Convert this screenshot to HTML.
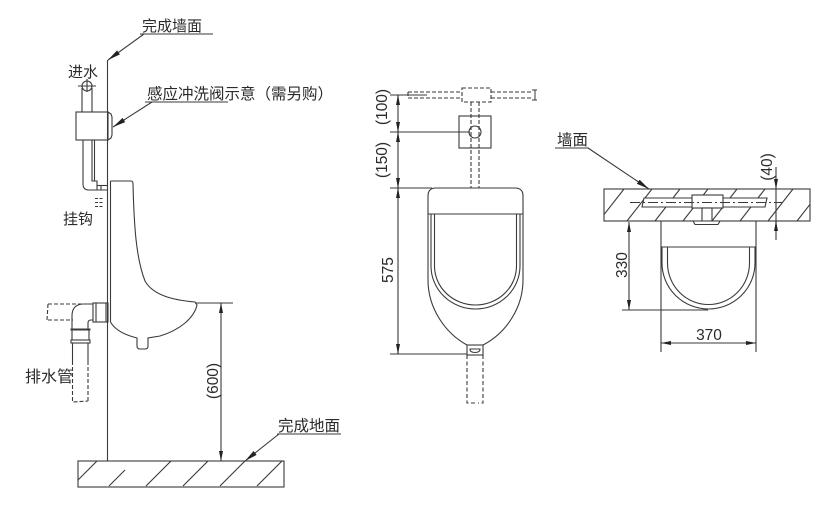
<!DOCTYPE html>
<html><head><meta charset="utf-8"><style>
html,body{margin:0;padding:0;background:#fff;}
svg{display:block}
text{font-family:"Liberation Sans","Noto Sans CJK SC",sans-serif;fill:#2b2b2b}
</style></head><body>
<svg width="839" height="529" viewBox="0 0 839 529" xmlns="http://www.w3.org/2000/svg">
<defs>
<marker id="a" markerUnits="userSpaceOnUse" markerWidth="10" markerHeight="4" refX="10" refY="2" orient="auto-start-reverse"><path d="M0,0 L10,2 L0,4 Z" fill="#222" stroke="none"/></marker>
<marker id="b" markerUnits="userSpaceOnUse" markerWidth="13" markerHeight="5" refX="13" refY="2.5" orient="auto"><path d="M0,0 L13,2.5 L0,5 Z" fill="#222" stroke="none"/></marker>
<clipPath id="cf"><rect x="78" y="461" width="206" height="26"/></clipPath>
<clipPath id="cw"><rect x="604" y="189" width="206" height="32"/></clipPath>
</defs>

<g fill="none" stroke="#3a3a3a" stroke-width="1.1">
<!-- LEFT ELEVATION -->
<line x1="107.5" y1="60" x2="107.5" y2="461"/>
<line x1="140" y1="34" x2="213" y2="34"/>
<line x1="144" y1="34" x2="108" y2="60" marker-end="url(#b)"/>

<!-- valve leader -->
<line x1="145" y1="102" x2="228" y2="102"/>
<line x1="152" y1="102" x2="113" y2="127" marker-end="url(#b)"/>

<!-- inlet -->
<circle cx="87" cy="86" r="5"/>
<line x1="78" y1="86" x2="96" y2="86"/>
<line x1="87" y1="79" x2="87" y2="92"/>
<line x1="82" y1="88" x2="82" y2="112"/>
<line x1="92" y1="88" x2="92" y2="112"/>
<rect x="76" y="112" width="32" height="28"/>
<path d="M108,112 L111,114 L112,117 V135 L111,138 L108,140"/>
<path d="M83,140 V184 Q83,190 89,190 H108"/>
<path d="M92,140 V181 H97 V190"/>
<line x1="94.5" y1="140" x2="94.5" y2="181"/>
<line x1="97" y1="185.5" x2="108" y2="185.5"/>
<line x1="101" y1="185.5" x2="101" y2="190"/>

<!-- urinal side -->
<path d="M110.5,181 H131 Q133,181 133,184 C134,225 136,258 145,281 C153,295 172,300 195,302 L197,305 C194,318 180,330 160,336 L148,338 V346 Q148,349 145,349 H140 Q137,349 137,346 V338 C125,335 115,330 110.5,322"/>
<line x1="110.5" y1="181" x2="110.5" y2="322"/>
<line x1="195" y1="303" x2="233" y2="303"/>

<!-- hook -->
<line x1="95" y1="198.5" x2="104" y2="198.5" stroke-dasharray="3,1.5"/>
<line x1="95" y1="202.5" x2="104" y2="202.5" stroke-dasharray="3,1.5"/>
<line x1="95" y1="206.5" x2="104" y2="206.5" stroke-dasharray="3,1.5"/>

<!-- drain assembly -->
<path d="M48,304 H93 M48,320 H73 M48,304 L47,320" stroke-dasharray="4,2"/>
<rect x="93" y="303" width="15" height="19"/>
<line x1="96" y1="303" x2="96" y2="322"/>
<line x1="106" y1="303" x2="106" y2="322"/>
<path d="M93,304 H84 Q72,304 72,316 V329"/>
<path d="M93,320 H91 Q88,320 88,323 V329"/>
<line x1="70.5" y1="329.5" x2="90.5" y2="329.5" stroke-width="2"/>
<path d="M72,330 V340 M89,330 V340"/>
<rect x="71" y="340" width="19" height="3"/>
<path d="M72.5,343 V361 M88,343 V361"/>
<path d="M72.5,361 V402 L88,401 M88,361 V402" stroke-dasharray="4,2"/>

<!-- floor -->
<rect x="78" y="461" width="206" height="26"/>
<g clip-path="url(#cf)">
<line x1="71" y1="487" x2="97" y2="461"/>
<line x1="109" y1="486" x2="125" y2="470"/>
<line x1="146" y1="486" x2="171" y2="461"/>
<line x1="183" y1="486" x2="208" y2="461"/>
<line x1="220" y1="486" x2="245" y2="461"/>
<line x1="257" y1="486" x2="282" y2="461"/>
</g>
<line x1="277" y1="434" x2="341" y2="434"/>
<line x1="279" y1="434" x2="245" y2="461" marker-end="url(#b)"/>

<!-- dim 600 -->
<line x1="221" y1="303" x2="221" y2="461" marker-start="url(#a)" marker-end="url(#a)"/>

<!-- MIDDLE FRONT -->
<path d="M408,92 H462 M408,98 H462 M408,92 V98 M491,92 H533 M491,98 H533" stroke-dasharray="4,2"/>
<rect x="462" y="88" width="29" height="14" stroke-dasharray="4,2"/>
<path d="M535,90 V100 M532,90 H537 M532,100 H537" stroke-width="1"/>
<path d="M471,102 V188 M479,102 V188" stroke-dasharray="4,2"/>
<rect x="459" y="116" width="32" height="32"/>
<circle cx="475" cy="132" r="6"/>
<line x1="390" y1="95" x2="427" y2="95"/>
<line x1="390" y1="132" x2="470" y2="132"/>
<line x1="390" y1="188" x2="432" y2="188"/>
<line x1="390" y1="354" x2="467" y2="354"/>
<line x1="398" y1="95" x2="398" y2="354"/>
<line x1="398" y1="105" x2="398" y2="95" marker-end="url(#a)"/>
<line x1="398" y1="122" x2="398" y2="132" marker-end="url(#a)"/>
<line x1="398" y1="142" x2="398" y2="132" marker-end="url(#a)"/>
<line x1="398" y1="178" x2="398" y2="188" marker-end="url(#a)"/>
<line x1="398" y1="198" x2="398" y2="188" marker-end="url(#a)"/>
<line x1="398" y1="344" x2="398" y2="354" marker-end="url(#a)"/>

<path d="M467,345 C445,333 428,308 428,280 V196 Q428,188 436,188 H515 Q523,188 523,196 V280 C523,308 506,333 483,345"/>
<line x1="428" y1="214" x2="523" y2="214"/>
<path d="M431,214 V266 A44.5,43 0 0 0 520,266 V214"/>
<path d="M434.5,214 V266 A41,39 0 0 0 516.5,266 V214"/>
<rect x="467" y="345" width="16" height="10"/>
<path d="M470,349 H480 Q480,352.5 475,352.5 Q470,352.5 470,349 Z"/>
<path d="M467,355 V403 H475 M483,355 V403 H478" stroke-dasharray="4,2.5"/>

<!-- RIGHT PLAN -->
<line x1="555" y1="148" x2="589" y2="148"/>
<line x1="588" y1="148" x2="649" y2="189" marker-end="url(#b)"/>
<rect x="604" y="189" width="206" height="32"/>
<g clip-path="url(#cw)">
<line x1="599" y1="221" x2="624" y2="189"/>
<line x1="627" y1="221" x2="652" y2="189"/>
<line x1="655" y1="221" x2="680" y2="189"/>
<line x1="683" y1="221" x2="708" y2="189"/>
<line x1="712" y1="221" x2="737" y2="189"/>
<line x1="740" y1="221" x2="765" y2="189"/>
<line x1="768" y1="221" x2="793" y2="189"/>
<line x1="797" y1="221" x2="822" y2="189"/>
</g>
<path d="M644,198 H767 L765,207 H642 Z" fill="#fff"/>
<rect x="692" y="195" width="31" height="13" fill="#fff"/>
<rect x="702" y="208" width="10" height="13" fill="#fff"/>
<path d="M693,221 H720 L718,224.5 H695 Z" fill="#fff"/>
<line x1="630" y1="202.5" x2="782" y2="202.5" stroke-dasharray="10,3,2,3" stroke-width="1"/>

<line x1="661" y1="221" x2="661" y2="352"/>
<line x1="756" y1="221" x2="756" y2="352"/>
<line x1="661" y1="247" x2="756" y2="247"/>
<path d="M662,247 V263 A46.5,46 0 0 0 755,263 V247"/>
<path d="M667.5,247 V263 A41,41.5 0 0 0 749.5,263 V247"/>
<line x1="622" y1="310" x2="708" y2="310"/>
<line x1="629" y1="222" x2="629" y2="310" marker-start="url(#a)" marker-end="url(#a)"/>
<line x1="661" y1="343" x2="756" y2="343" marker-start="url(#a)" marker-end="url(#a)"/>
<line x1="776" y1="167" x2="776" y2="240"/>
<line x1="776" y1="179" x2="776" y2="189" marker-end="url(#a)"/>
<line x1="776" y1="231" x2="776" y2="221" marker-end="url(#a)"/>
</g>

<!-- TEXT -->
<text x="142" y="31" font-size="15">完成墙面</text>
<text x="68" y="77" font-size="15">进水</text>
<text x="147" y="99" font-size="15.5" textLength="186" lengthAdjust="spacingAndGlyphs">感应冲洗阀示意（需另购）</text>
<text x="63" y="224" font-size="15">挂钩</text>
<text x="25" y="382" font-size="16">排水管</text>
<text x="278" y="431" font-size="15.5">完成地面</text>
<text x="557" y="145" font-size="15.5">墙面</text>

<text transform="translate(218,381) rotate(-90)" text-anchor="middle" font-size="15.5">(600)</text>
<text transform="translate(387,107) rotate(-90)" text-anchor="middle" font-size="15.5">(100)</text>
<text transform="translate(387,160) rotate(-90)" text-anchor="middle" font-size="15.5">(150)</text>
<text transform="translate(393,270) rotate(-90)" text-anchor="middle" font-size="15.5">575</text>
<text transform="translate(627,265) rotate(-90)" text-anchor="middle" font-size="15.5">330</text>
<text transform="translate(772,167) rotate(-90)" text-anchor="middle" font-size="15.5">(40)</text>
<text x="709" y="340" text-anchor="middle" font-size="15.5">370</text>
</svg>
</body></html>
